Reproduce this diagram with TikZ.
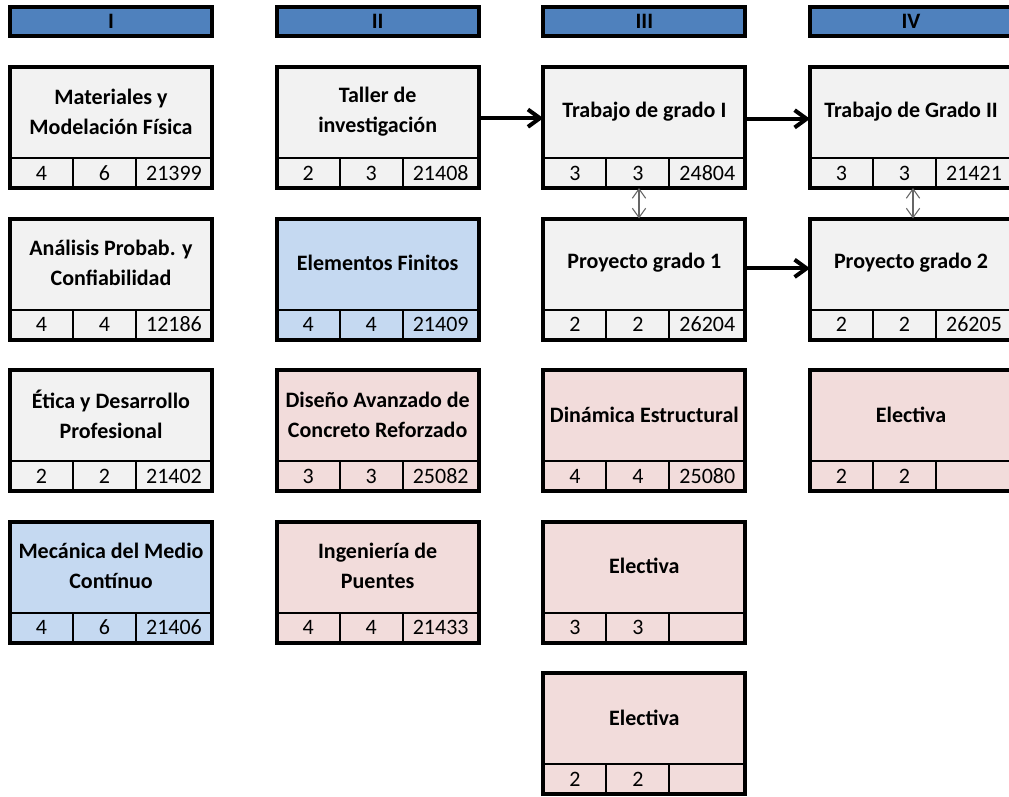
\documentclass[tikz,border=0pt]{standalone}
\usepackage{fontspec}
\setmainfont{Carlito}
\usetikzlibrary{arrows.meta}

\definecolor{azulcab}{HTML}{4F81BD}
\definecolor{gris}{HTML}{F2F2F2}
\definecolor{azulclaro}{HTML}{C5D9F1}
\definecolor{rosa}{HTML}{F2DCDB}

\begin{document}
\begin{tikzpicture}[x=0.75pt,y=-0.75pt,
    fondo/.style={rectangle, inner sep=0pt, outer sep=0pt,
      minimum width=151.5pt, minimum height=90.75pt},
    borde/.style={draw=black, line width=3pt},
    celda/.style={rectangle, draw=black, line width=1.5pt, inner sep=0pt, outer sep=0pt,
      minimum height=22.5pt, anchor=south west, font=\fontsize{16.5}{20}\selectfont},
    titulo/.style={align=center, inner sep=0pt, font=\bfseries\fontsize{16.5}{22.5}\selectfont},
    cabecera/.style={rectangle, fill=azulcab, draw=black, line width=3pt, inner sep=0pt,
      minimum width=151.5pt, minimum height=21.75pt, font=\bfseries\fontsize{16.5}{20}\selectfont},
    flecha/.style={draw=black, line width=3pt, -{Straight Barb[length=9pt,width=13pt]}},
    dobleflecha/.style={draw=black!60, line width=0.8pt,
      {Straight Barb[length=7pt,width=10pt]}-{Straight Barb[length=7pt,width=10pt]}}]

  \useasboundingbox (0,0) rectangle (1009,796);
  \clip (0,0) rectangle (1009,796);

  % semestres
  \foreach \h [count=\k] in {I,II,III,IV}
    \node[cabecera] (cab\k) at ({111+266.67*(\k-1)},21.5) {\h};

  % materias: nombre/columna/fila/color/titulo/creditos/horas/codigo
  \foreach \n/\col/\fila/\relleno/\titulo/\ca/\cb/\cc in {
      materiales/1/1/gris/{Materiales y\\Modelación Física}/4/6/21399,
      analisis/1/2/gris/{Análisis Probab. y\\Confiabilidad}/4/4/12186,
      etica/1/3/gris/{Ética y Desarrollo\\Profesional}/2/2/21402,
      mecanica/1/4/azulclaro/{Mecánica del Medio\\Contínuo}/4/6/21406,
      taller/2/1/gris/{Taller de\\investigación}/2/3/21408,
      finitos/2/2/azulclaro/{Elementos Finitos}/4/4/21409,
      concreto/2/3/rosa/{Diseño Avanzado de\\Concreto Reforzado}/3/3/25082,
      puentes/2/4/rosa/{Ingeniería de\\Puentes}/4/4/21433,
      trabajoI/3/1/gris/{Trabajo de grado I}/3/3/24804,
      proyectoI/3/2/gris/{Proyecto grado 1}/2/2/26204,
      dinamica/3/3/rosa/{Dinámica Estructural}/4/4/25080,
      electivaA/3/4/rosa/{Electiva}/3/3/{},
      electivaB/3/5/rosa/{Electiva}/2/2/{},
      trabajoII/4/1/gris/{Trabajo de Grado II}/3/3/21421,
      proyectoII/4/2/gris/{Proyecto grado 2}/2/2/26205,
      electivaC/4/3/rosa/{Electiva}/2/2/{}}
  {
    \pgfmathsetmacro{\xa}{8+266.67*(\col-1)}
    \pgfmathsetmacro{\ya}{65+151.5*(\fila-1)}
    \node[fondo, fill=\relleno] (\n) at (\xa+103,\ya+62.5) {};
    \node[celda, minimum width=47.25pt] (\n-a) at (\n.south west) {\ca};
    \node[celda, minimum width=47.25pt] (\n-b) at (\n-a.south east) {\cb};
    \node[celda, minimum width=57pt] (\n-c) at (\n-b.south east) {\cc};
    \draw[borde] (\n.north west) rectangle (\n.south east);
    \node[titulo] (\n-t) at (\xa+103,\ya+46.5) {\titulo};
  }

  % prerrequisitos
  \draw[flecha] ([yshift=7pt]taller.east) -- ([yshift=7pt]trabajoI.west);
  \draw[flecha] ([yshift=6.5pt]trabajoI.east) -- ([yshift=6.5pt]trabajoII.west);
  \draw[flecha] ([yshift=8pt]proyectoI.east) -- ([yshift=8pt]proyectoII.west);

  % correquisitos
  \draw[dobleflecha] ([xshift=-4pt]trabajoI.south) -- ([xshift=-4pt]proyectoI.north);
  \draw[dobleflecha] ([xshift=1.5pt]trabajoII.south) -- ([xshift=1.5pt]proyectoII.north);

\end{tikzpicture}
\end{document}
